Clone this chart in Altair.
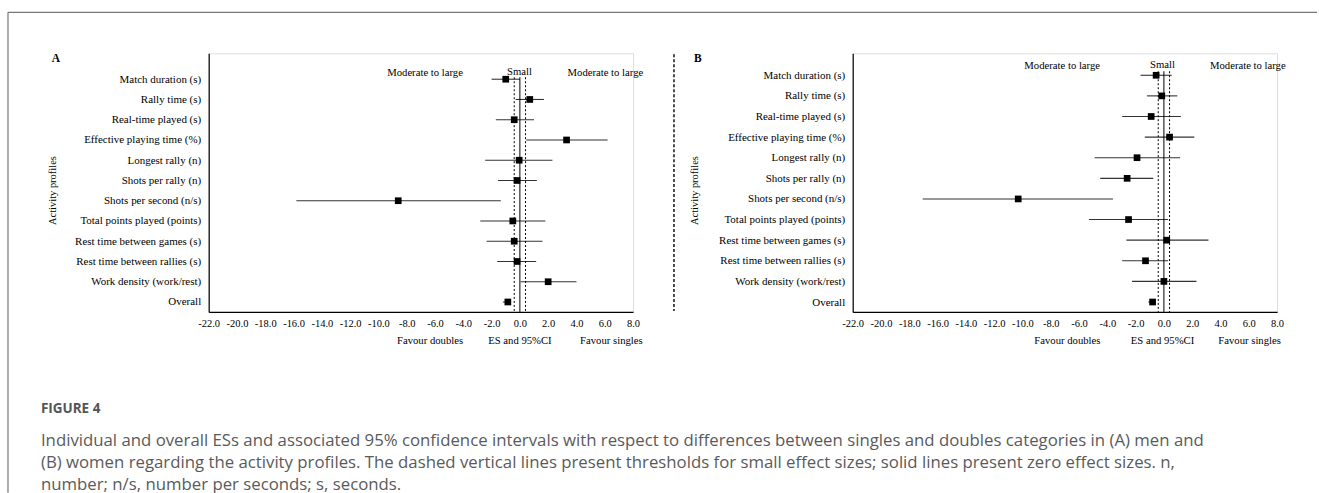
import json
import altair as alt
import pandas as pd

SERIF = "Liberation Serif"
SANS = "Open Sans"

profiles = [
    "Match duration (s)", "Rally time (s)", "Real-time played (s)",
    "Effective playing time (%)", "Longest rally (n)", "Shots per rally (n)",
    "Shots per second (n/s)", "Total points played (points)",
    "Rest time between games (s)", "Rest time between rallies (s)",
    "Work density (work/rest)", "Overall",
]

men_es = [-1.0, 0.7, -0.4, 3.3, -0.05, -0.2, -8.6, -0.5, -0.4, -0.2, 2.0, -0.85]
men_lo = [-2.0, -0.3, -1.7, 0.45, -2.45, -1.55, -15.8, -2.8, -2.35, -1.6, 0.05, -1.2]
men_hi = [0.0, 1.7, 1.0, 6.2, 2.3, 1.2, -1.35, 1.8, 1.6, 1.15, 4.0, -0.7]

women_es = [-0.55, -0.15, -0.9, 0.4, -1.9, -2.6, -10.3, -2.5, 0.2, -1.3, 0.0, -0.8]
women_lo = [-1.65, -1.2, -2.95, -1.35, -4.9, -4.5, -17.05, -5.3, -2.65, -2.95, -2.25, -1.1]
women_hi = [0.55, 0.95, 1.2, 2.15, 1.15, -0.75, -3.6, 0.3, 3.15, 0.3, 2.3, -0.65]

x_ticks = list(range(-22, 9, 2))
small_es = [-0.4, 0.4]
zero_es = [0.0]

caption_head = "FIGURE 4"
caption_lines = [
    "Individual and overall ESs and associated 95% confidence intervals with respect to differences between singles and doubles categories in (A) men and",
    "(B) women regarding the activity profiles. The dashed vertical lines present thresholds for small effect sizes; solid lines present zero effect sizes. n,",
    "number; n/s, number per seconds; s, seconds.",
]

W, H = 425, 259
label_js = json.dumps(profiles)


def one(text=""):
    return pd.DataFrame({"t": [text]})


def panel(es, lo, hi, ydom, letter, title_x, pos, ref_top, extra):
    df = pd.DataFrame({"row": list(range(1, 13)), "label": profiles,
                       "es": es, "lo": lo, "hi": hi})
    xscale = alt.Scale(domain=[-22, 8], nice=False, zero=False)
    yscale = alt.Scale(domain=ydom, reverse=True, nice=False, zero=False)
    xaxis = alt.Axis(values=x_ticks,
                     labelExpr="(datum.value < 0 ? '-' : '') + format(abs(datum.value), '.1f')",
                     ticks=False, grid=False,
                     domainColor="black", domainWidth=1.2, labelFont=SERIF,
                     labelFontSize=10.5, labelColor="black", labelPadding=7,
                     labelFlush=False, labelOverlap=False, title=None)
    yaxis = alt.Axis(values=list(range(1, 13)),
                     labelExpr=f"{label_js}[datum.value - 1]",
                     ticks=False, grid=False, domainColor="black", domainWidth=1.2,
                     labelFont=SERIF, labelFontSize=11, labelColor="black",
                     labelPadding=8, labelOverlap=False,
                     title="Activity profiles", titleFont=SERIF, titleFontSize=10.5,
                     titleFontWeight="normal", titleColor="black",
                     titleX=title_x, titleY=137, titleBaseline="middle",
                     titleAlign="center", titleAngle=-90)
    base = alt.Chart(df)
    ci = base.mark_rule(color="#333333", strokeWidth=1.1).encode(
        x=alt.X("lo:Q", scale=xscale, axis=xaxis),
        x2="hi:Q",
        y=alt.Y("row:Q", scale=yscale, axis=yaxis),
    )
    pts = base.mark_square(size=45, color="black", opacity=1).encode(
        x=alt.X("es:Q", scale=xscale, axis=xaxis),
        y=alt.Y("row:Q", scale=yscale, axis=yaxis),
    )
    dashed = alt.Chart(pd.DataFrame({"v": small_es})).mark_rule(
        color="black", strokeWidth=1, strokeDash=[2, 2]).encode(
        x=alt.X("v:Q", scale=xscale, axis=xaxis),
        y=alt.value(ref_top), y2=alt.value(H))
    zero = alt.Chart(pd.DataFrame({"v": zero_es})).mark_rule(
        color="black", strokeWidth=1).encode(
        x=alt.X("v:Q", scale=xscale, axis=xaxis),
        y=alt.value(ref_top), y2=alt.value(H))

    def txt(s, px, py, **kw):
        opts = dict(font=SERIF, fontSize=10.7, color="black", align="center",
                    baseline="middle")
        opts.update(kw)
        return alt.Chart(one(s)).mark_text(**opts).encode(
            text="t:N", x=alt.value(px), y=alt.value(py))

    ann = [
        txt("Moderate to large", pos[0], pos[3]),
        txt("Small", pos[1], pos[3] - 1),
        txt("Moderate to large", pos[2], pos[3]),
        txt("Favour doubles", pos[4], 288),
        txt("ES and 95%CI", pos[5], 288),
        txt("Favour singles", pos[6], 288),
        txt(letter, title_x + 3, 6, fontWeight="bold", fontSize=11.5),
    ]
    return alt.layer(ci, dashed, zero, pts, *ann, *extra).properties(width=W, height=H)


# panel A decorations: outer frame and caption
frame_left = alt.Chart(one()).mark_rule(color="#777", strokeWidth=1.2).encode(
    x=alt.value(-201), y=alt.value(-41), y2=alt.value(440))
frame_top = alt.Chart(one()).mark_rule(color="#777", strokeWidth=1.2).encode(
    x=alt.value(-201), x2=alt.value(1110), y=alt.value(-41))
cap_head = alt.Chart(one(caption_head)).mark_text(
    font=SANS, fontSize=13.5, fontWeight="bold", color="#555", align="left",
    baseline="middle").encode(text="t:N", x=alt.value(-168), y=alt.value(356))
cap_body = [
    alt.Chart(one(s)).mark_text(font=SANS, fontSize=16.8, color="#5a5a5a", align="left",
                                baseline="middle").encode(
        text="t:N", x=alt.value(-168), y=alt.value(388 + 22 * i))
    for i, s in enumerate(caption_lines)
]

sep = alt.Chart(one()).mark_rule(color="black", strokeWidth=1.4, strokeDash=[3, 2]).encode(
    x=alt.value(-179), y=alt.value(1), y2=alt.value(258))

pA = panel(men_es, men_lo, men_hi, [-0.28, 12.49], "A", -156,
           [216.7, 311.3, 397.3, 20, 221.7, 311.7, 403.3], 24,
           [frame_left, frame_top, cap_head, *cap_body])
pB = panel(women_es, women_lo, women_hi, [-0.066, 12.48], "B", -158,
           [209.8, 310.3, 395.7, 13, 215, 310.3, 397.5], 18,
           [sep])

chart = alt.hconcat(pA, pB, spacing=220, bounds="flush").properties(
    padding={"left": 6, "top": 10, "right": 0, "bottom": 0}
).configure_view(stroke=None).configure(font=SERIF, background="white")

chart.save("out.html", embed_options={"renderer": "svg", "actions": False})
